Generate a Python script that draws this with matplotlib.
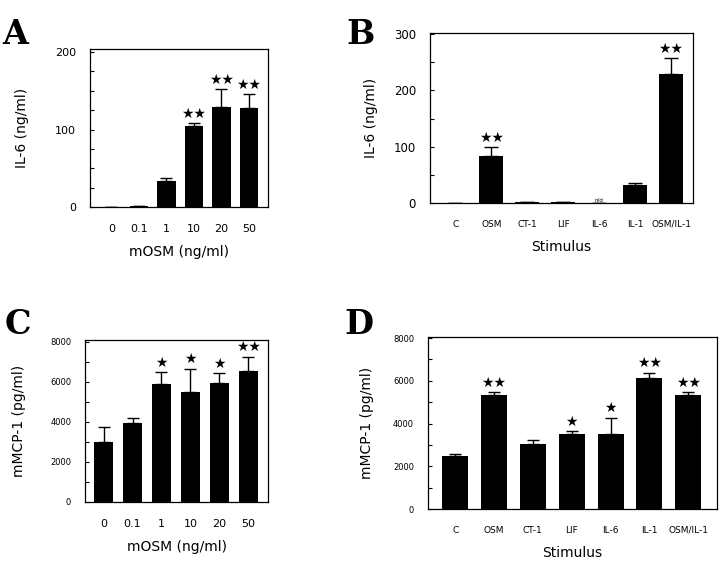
import matplotlib
matplotlib.use('Agg')
import matplotlib.pyplot as plt
import numpy as np
from matplotlib.ticker import MultipleLocator

# panel A: IL-6 vs mOSM dose
dose_labels = ['0', '0.1', '1', '10', '20', '50']
il6_dose = [0.5, 1.5, 34, 105, 129, 128]
il6_dose_err = [0, 0, 4, 3, 23, 18]
il6_dose_stars = ['', '', '', '★★', '★★', '★★']

# panel B: IL-6 vs stimulus
stim_labels = ['C', 'OSM', 'CT-1', 'LIF', 'IL-6', 'IL-1', 'OSM/IL-1']
il6_stim = [0.5, 83, 2.5, 2.5, 0, 32, 230]
il6_stim_err = [0, 16, 0, 0, 0, 3, 28]
il6_stim_stars = ['', '★★', '', '', '', '', '★★']

# panel C: mMCP-1 vs mOSM dose
mcp_dose = [2980, 3960, 5880, 5500, 5970, 6570]
mcp_dose_err = [770, 230, 600, 1170, 460, 690]
mcp_dose_stars = ['', '', '★', '★', '★', '★★']

# panel D: mMCP-1 vs stimulus
mcp_stim = [2500, 5340, 3060, 3520, 3500, 6150, 5320]
mcp_stim_err = [80, 120, 160, 120, 780, 220, 140]
mcp_stim_stars = ['', '★★', '', '★', '★', '★★', '★★']

fig = plt.figure(figsize=(7.2, 5.62), dpi=100)


def panel(rect, labels, vals, errs, stars, ylim, major, minor, tick_fs,
          xt_fs, ylabel, xlabel, letter, letter_xy, ylab_x, xlim,
          cap, star_off, star_fs):
    ax = fig.add_axes(rect)
    x = np.arange(len(vals))
    ax.bar(x, vals, width=0.67, color='black')
    ax.errorbar(x, vals, yerr=[np.zeros(len(vals)), errs], fmt='none',
                ecolor='black', elinewidth=1, capsize=cap, capthick=1)
    for xi, v, e, s in zip(x, vals, errs, stars):
        if s:
            ax.text(xi, v + e + star_off, s, ha='center', va='bottom',
                    fontsize=star_fs, family='DejaVu Sans')
    ax.set_xlim(*xlim)
    ax.set_ylim(*ylim)
    ax.yaxis.set_major_locator(MultipleLocator(major))
    ax.yaxis.set_minor_locator(MultipleLocator(minor))
    ax.tick_params(axis='y', which='both', direction='in', length=3,
                   width=0.8, labelsize=tick_fs, pad=10)
    ax.tick_params(axis='x', length=0, labelsize=xt_fs, pad=12)
    ax.set_xticks(x)
    ax.set_xticklabels(labels)
    for sp in ax.spines.values():
        sp.set_linewidth(0.9)
    ax.set_xlabel(xlabel, fontsize=10, labelpad=8)
    fig.text(ylab_x, rect[1] + rect[3] / 2, ylabel, rotation=90,
             ha='center', va='center', fontsize=10)
    fig.text(letter_xy[0], letter_xy[1], letter, fontsize=24,
             fontweight='bold', family='DejaVu Serif', ha='left', va='top')
    return ax


panel([0.125, 0.6317, 0.2472, 0.2811], dose_labels, il6_dose, il6_dose_err,
      il6_dose_stars, (0, 204), 100, 25, 8, 8, 'IL-6 (ng/ml)',
      'mOSM (ng/ml)', 'A', (0.003, 0.968), 0.03, (-0.78, 5.69), 4, 3, 10)

axb = panel([0.5972, 0.6388, 0.3653, 0.3025], stim_labels, il6_stim,
            il6_stim_err, il6_stim_stars, (0, 302), 100, 50, 8.5, 6.5,
            'IL-6 (ng/ml)', 'Stimulus', 'B', (0.481, 0.968), 0.515,
            (-0.71, 6.61), 5, 4, 10)
axb.text(4, 1, 'n/d', ha='center', va='bottom', fontsize=4)

panel([0.1181, 0.1068, 0.2542, 0.2883], dose_labels, mcp_dose, mcp_dose_err,
      mcp_dose_stars, (0, 8100), 2000, 1000, 6, 8, 'mMCP-1 (pg/ml)',
      'mOSM (ng/ml)', 'C', (0.006, 0.452), 0.027, (-0.64, 5.68), 4, 120, 10)

panel([0.5944, 0.0943, 0.4014, 0.3060], stim_labels, mcp_stim, mcp_stim_err,
      mcp_stim_stars, (0, 8050), 2000, 1000, 6, 6.5, 'mMCP-1 (pg/ml)',
      'Stimulus', 'D', (0.478, 0.452), 0.51, (-0.70, 6.74), 4, 120, 10)

fig.savefig('out.png', dpi=100, facecolor='white')
